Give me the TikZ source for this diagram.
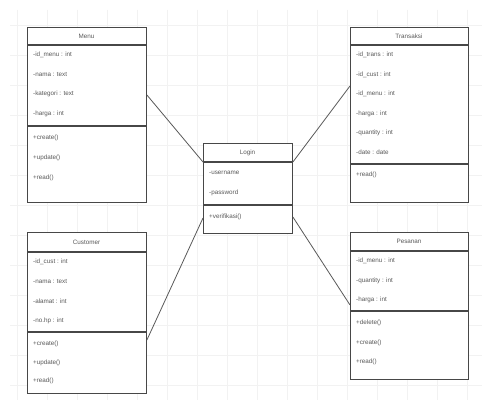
\documentclass[tikz,border=0pt]{standalone}
\usepackage{fontspec}
\setmainfont{Liberation Sans}
\begin{document}
\begin{tikzpicture}[x=1pt,y=-1pt,
  classbox/.style={draw=black!72, line width=0.9pt, fill=white, minimum width=#1, inner sep=0pt, anchor=north west},
  sepline/.style={draw=black!72, line width=1.1pt},
  title/.style={font=\fontsize{6.3}{7}\selectfont, text=black!65, inner sep=0pt},
  row/.style={font=\fontsize{6.3}{7}\selectfont, text=black!65, anchor=west, inner sep=0pt},
  link/.style={draw=black!65, line width=0.8pt},
  gridline/.style={draw=black!5, line width=0.5pt}]
\useasboundingbox (0,0) rectangle (491,409);
\fill[white] (0,0) rectangle (491,409);
% faint background grid
\foreach \gx in {17,47,...,491} \draw[gridline] (\gx,10) -- (\gx,400);
\foreach \gy in {25,55,...,409} \draw[gridline] (10,\gy) -- (482,\gy);

% ---- Menu ----
\node[classbox=119pt, minimum height=175pt] (menu) at (27,27) {};
\draw[sepline] (menu.west |- 0,45) -- (menu.east |- 0,45);
\draw[sepline] (menu.west |- 0,126) -- (menu.east |- 0,126);
\node[title] (menuT) at (86.5,36) {Menu};
\node[row] (menuA1) at (33,55) {-id\_menu : int};
\node[row] (menuA2) at (33,74.5) {-nama : text};
\node[row] (menuA3) at (33,94) {-kategori : text};
\node[row] (menuA4) at (33,113.5) {-harga : int};
\node[row] (menuM1) at (33,138) {+create()};
\node[row] (menuM2) at (33,157.5) {+update()};
\node[row] (menuM3) at (33,178) {+read()};

% ---- Transaksi ----
\node[classbox=118pt, minimum height=175pt] (trans) at (350,27) {};
\draw[sepline] (trans.west |- 0,45) -- (trans.east |- 0,45);
\draw[sepline] (trans.west |- 0,164) -- (trans.east |- 0,164);
\node[title] (transT) at (409,36) {Transaksi};
\node[row] (transA1) at (356,55) {-id\_trans : int};
\node[row] (transA2) at (356,74.5) {-id\_cust : int};
\node[row] (transA3) at (356,94) {-id\_menu : int};
\node[row] (transA4) at (356,113.5) {-harga : int};
\node[row] (transA5) at (356,133) {-quantity : int};
\node[row] (transA6) at (356,152.5) {-date : date};
\node[row] (transM1) at (356,175) {+read()};

% ---- Login ----
\node[classbox=89pt, minimum height=90pt] (login) at (203,143) {};
\draw[sepline] (login.west |- 0,162) -- (login.east |- 0,162);
\draw[sepline] (login.west |- 0,205) -- (login.east |- 0,205);
\node[title] (loginT) at (247.5,152.5) {Login};
\node[row] (loginA1) at (209,173) {-username};
\node[row] (loginA2) at (209,192.5) {-password};
\node[row] (loginM1) at (209,217) {+verifikasi()};

% ---- Customer ----
\node[classbox=119pt, minimum height=161pt] (cust) at (27,232) {};
\draw[sepline] (cust.west |- 0,252) -- (cust.east |- 0,252);
\draw[sepline] (cust.west |- 0,332) -- (cust.east |- 0,332);
\node[title] (custT) at (86.5,242) {Customer};
\node[row] (custA1) at (33,262) {-id\_cust : int};
\node[row] (custA2) at (33,281.5) {-nama : text};
\node[row] (custA3) at (33,301) {-alamat : int};
\node[row] (custA4) at (33,320.5) {-no.hp : int};
\node[row] (custM1) at (33,344) {+create()};
\node[row] (custM2) at (33,363) {+update()};
\node[row] (custM3) at (33,381) {+read()};

% ---- Pesanan ----
\node[classbox=118pt, minimum height=147pt] (pes) at (350,232) {};
\draw[sepline] (pes.west |- 0,251) -- (pes.east |- 0,251);
\draw[sepline] (pes.west |- 0,311) -- (pes.east |- 0,311);
\node[title] (pesT) at (409,241.5) {Pesanan};
\node[row] (pesA1) at (356,261) {-id\_menu : int};
\node[row] (pesA2) at (356,280.5) {-quantity : int};
\node[row] (pesA3) at (356,300) {-harga : int};
\node[row] (pesM1) at (356,323) {+delete()};
\node[row] (pesM2) at (356,342.5) {+create()};
\node[row] (pesM3) at (356,362) {+read()};

% ---- associations ----
\draw[link] (menu.east |- 0,95) -- (login.west |- 0,162);
\draw[link] (trans.west |- 0,86) -- (login.east |- 0,162);
\draw[link] (cust.east |- 0,340) -- (login.west |- 0,218);
\draw[link] (pes.west |- 0,305) -- (login.east |- 0,217);
\end{tikzpicture}
\end{document}
